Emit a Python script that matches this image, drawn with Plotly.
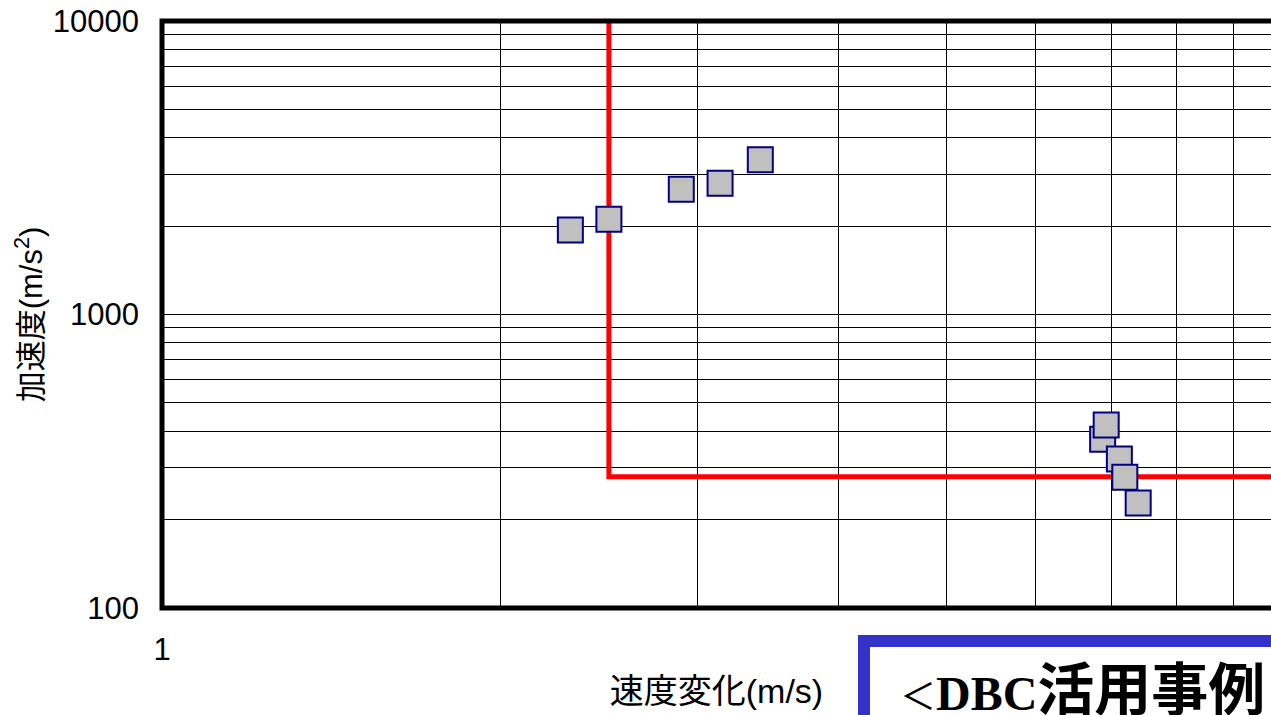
import plotly.graph_objects as go

# Measured samples: velocity change (m/s) vs acceleration (m/s^2)
group_low_dv_x = [2.31, 2.50, 2.90, 3.14, 3.41]
group_low_dv_y = [1940, 2110, 2670, 2800, 3370]

group_high_dv_x = [6.88, 6.93, 7.12, 7.20, 7.40]
group_high_dv_y = [376, 420, 322, 279, 228]

# Threshold boundary (velocity limit, acceleration limit)
limit_x = [2.5, 2.5, 10]
limit_y = [10000, 280, 280]

# Axis ticks (log decades with unlabeled minor grid)
x_tickvals = [1, 2, 3, 4, 5, 6, 7, 8, 9, 10]
x_ticktext = ["1", "", "", "", "", "", "", "", "", "10"]
y_tickvals = [100, 200, 300, 400, 500, 600, 700, 800, 900,
              1000, 2000, 3000, 4000, 5000, 6000, 7000, 8000, 9000, 10000]
y_ticktext = ["100", "", "", "", "", "", "", "", "",
              "1000", "", "", "", "", "", "", "", "", "10000"]

LATIN_CJK = "Liberation Sans, Arial, Noto Sans CJK JP, sans-serif"

fig = go.Figure()

fig.add_trace(go.Scatter(
    x=limit_x, y=limit_y, mode="lines",
    line=dict(color="#FF0000", width=5),
    hoverinfo="skip", showlegend=False,
))

marker_style = dict(symbol="square", size=25, color="#C0C0C0",
                    line=dict(color="#000080", width=2))

fig.add_trace(go.Scatter(
    x=group_low_dv_x, y=group_low_dv_y, mode="markers",
    marker=marker_style, showlegend=False,
))
fig.add_trace(go.Scatter(
    x=group_high_dv_x, y=group_high_dv_y, mode="markers",
    marker=marker_style, showlegend=False,
))

fig.update_layout(
    width=1271, height=715,
    margin=dict(l=162, r=0, t=21, b=107),
    paper_bgcolor="white", plot_bgcolor="white",
    font=dict(family=LATIN_CJK, size=31, color="black"),
    xaxis=dict(
        type="log", range=[0, 0.9875],
        tickvals=x_tickvals, ticktext=x_ticktext,
        showgrid=True, gridcolor="black", gridwidth=1,
        showline=False, ticks="", ticklabelstandoff=20,
        tickfont=dict(size=31),
        title=dict(text="速度変化(m/s)", standoff=13,
                   font=dict(size=34)),
    ),
    yaxis=dict(
        type="log", range=[2, 4],
        tickvals=y_tickvals, ticktext=y_ticktext,
        showgrid=True, gridcolor="black", gridwidth=1,
        showline=False, ticks="", ticklabelstandoff=22,
        tickfont=dict(size=31),
        title=dict(text="加速度(m/s<sup>2</sup>)", standoff=0,
                   font=dict(size=31)),
    ),
    shapes=[
        # plot frame (right side runs past the visible area)
        dict(type="rect", xref="paper", yref="paper",
             x0=0, x1=1.5, y0=0, y1=1,
             line=dict(color="black", width=5), layer="above"),
        # caption box
        dict(type="rect", xref="paper", yref="paper",
             x0=0.633, x1=1.2, y0=-0.0562, y1=-0.4,
             line=dict(color="#3333CC", width=12), layer="above"),
    ],
    annotations=[
        dict(
            xref="paper", yref="paper", x=0.664, y=-0.131,
            xanchor="left", yanchor="middle", showarrow=False,
            text=('<span style="font-family:Noto Sans CJK JP;font-size:36px">＜</span>'
                  '<span style="font-family:Liberation Serif;font-weight:bold;font-size:48px">DBC</span>'
                  '<span style="font-family:Noto Sans CJK JP;font-weight:bold;font-size:57px">活用事例</span>'),
            font=dict(size=52, color="black"),
        ),
    ],
)

fig.write_html("out.html")
